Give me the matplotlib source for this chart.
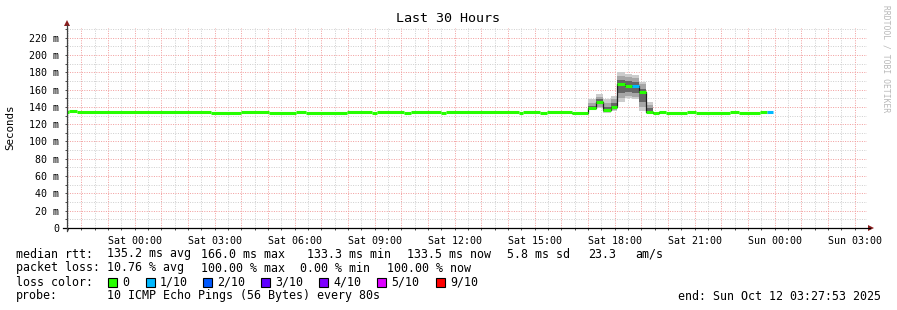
import matplotlib
matplotlib.use('Agg')
import matplotlib.pyplot as plt
import matplotlib.dates as mdates
from matplotlib.ticker import MultipleLocator, FuncFormatter
from matplotlib.lines import Line2D
from matplotlib.patches import Polygon, Rectangle
import pandas as pd

W, H = 897, 310
MONO = 'DejaVu Sans Mono'

# time window of the graph
t_start = pd.Timestamp('2025-10-10 21:27:53')
t_end = pd.Timestamp('2025-10-12 03:27:53')

# median rtt (ms) per step, with loss count (out of 10)
seg_start = pd.to_datetime([
    '2025-10-10 21:27:53', '2025-10-10 21:32', '2025-10-10 21:50',
    '2025-10-11 02:53', '2025-10-11 03:59', '2025-10-11 05:02', '2025-10-11 06:04',
    '2025-10-11 06:25', '2025-10-11 07:58', '2025-10-11 08:54', '2025-10-11 09:05',
    '2025-10-11 10:06', '2025-10-11 10:22', '2025-10-11 11:29', '2025-10-11 11:40',
    '2025-10-11 14:25', '2025-10-11 14:35', '2025-10-11 15:12', '2025-10-11 15:27',
    '2025-10-11 16:24', '2025-10-11 17:01', '2025-10-11 17:18', '2025-10-11 17:35',
    '2025-10-11 17:51', '2025-10-11 18:06', '2025-10-11 18:23', '2025-10-11 18:40',
    '2025-10-11 18:55', '2025-10-11 19:11', '2025-10-11 19:27', '2025-10-11 19:40',
    '2025-10-11 19:56', '2025-10-11 20:42', '2025-10-11 21:03', '2025-10-11 22:20',
    '2025-10-11 22:41', '2025-10-11 23:27', '2025-10-11 23:43',
], format='ISO8601')
median_ms = [
    134.0, 135.6, 134.0,
    133.5, 134.0, 133.5, 134.0,
    133.5, 134.0, 133.5, 134.0,
    133.5, 134.0, 133.5, 134.0,
    133.5, 134.0, 133.5, 134.0,
    133.5, 138.2, 145.9, 136.3,
    139.4, 166.3, 164.5, 164.0,
    156.7, 134.3, 133.5, 134.0,
    133.5, 134.0, 133.5, 134.0,
    133.5, 134.0, 134.0,
]
loss = [0] * 26 + [1] + [0] * 10 + [1]
data_end = pd.Timestamp('2025-10-11 23:57')

# smoke (ping spread) during the evening bump
smoke_edges = pd.to_datetime([
    '2025-10-11 17:01', '2025-10-11 17:18', '2025-10-11 17:35', '2025-10-11 17:51',
    '2025-10-11 18:06', '2025-10-11 18:23', '2025-10-11 18:40', '2025-10-11 18:55',
    '2025-10-11 19:11', '2025-10-11 19:27',
], format='ISO8601')
smoke_min = [136.0, 138.2, 133.2, 135.5, 145.9, 150.0, 148.6, 135.5, 134.3]
smoke_max = [148.6, 154.7, 148.6, 152.5, 179.8, 178.0, 176.7, 169.0, 145.9]
smoke_q1 = [137.0, 140.0, 134.0, 136.5, 150.0, 153.0, 152.0, 140.0, 134.5]
smoke_q3 = [145.0, 152.0, 145.0, 149.0, 176.0, 175.0, 173.0, 166.0, 142.0]
smoke_in_lo = [137.5, 143.0, 135.0, 137.5, 156.0, 157.0, 156.0, 146.0, 135.0]
smoke_in_hi = [141.0, 149.0, 140.0, 144.0, 171.0, 170.0, 169.0, 161.0, 139.0]

loss_labels = ['0', '1/10', '2/10', '3/10', '4/10', '5/10', '9/10']
loss_colors = ['#26ff00', '#00b8ff', '#0059ff', '#5e00ff', '#7e00ff', '#dd00ff', '#ff0000']
loss_color_of = {0: '#26ff00', 1: '#00b8ff'}


def fx(x):
    return x / W


def fy(y):
    return 1 - y / H


fig = plt.figure(figsize=(W / 100, H / 100), dpi=100)
fig.patch.set_facecolor('white')
ax = fig.add_axes([fx(67), fy(228), 800 / W, 200 / H])

# smoke bands
def band(lo, hi, color):
    ax.fill_between(smoke_edges, lo + [lo[-1]], hi + [hi[-1]], step='post',
                    color=color, linewidth=0, zorder=2)

band(smoke_min, smoke_max, '#cccccc')
band(smoke_q1, smoke_q3, '#a6a6a6')
band(smoke_in_lo, smoke_in_hi, '#666666')

# median: thin dark step over the smoky part + loss-coloured thick segments
seg_end = list(seg_start[1:]) + [data_end]
ax.step(list(seg_start[19:31]), median_ms[19:31], where='post',
        color='#202020', lw=0.9, zorder=3)
for s, e, m, l in zip(seg_start, seg_end, median_ms, loss):
    ax.hlines(m, s, e, color=loss_color_of[l], lw=2.2, zorder=4, capstyle='butt')

ax.set_xlim(t_start, t_end)
ax.set_ylim(0, 231.2)

ax.xaxis.set_major_locator(mdates.HourLocator())
ax.xaxis.set_minor_locator(mdates.MinuteLocator(byminute=[30]))
ax.xaxis.set_major_formatter(FuncFormatter(
    lambda v, p: mdates.num2date(v).strftime('%a %H:%M') if mdates.num2date(v).hour % 3 == 0 else ''))
ax.yaxis.set_major_locator(MultipleLocator(20))
ax.yaxis.set_minor_locator(MultipleLocator(10))
ax.yaxis.set_major_formatter(FuncFormatter(lambda v, p: '0' if v == 0 else '%d m' % v))

ax.grid(which='minor', color='#d0d0d0', linestyle=(0, (1, 1.4)), lw=0.72)
ax.grid(which='major', color='#f2a0a0', linestyle=(0, (1, 1.4)), lw=0.72)
ax.set_axisbelow(True)

for sp in ax.spines.values():
    sp.set_visible(False)
ax.tick_params(which='both', length=1.6, width=0.72, color='#505050', pad=4,
               labelsize=7.2)
for lab in ax.get_xticklabels() + ax.get_yticklabels():
    lab.set_fontfamily(MONO)

# axes with arrows
fig.add_artist(Line2D([fx(63), fx(870)], [fy(228), fy(228)], color='black', lw=0.9))
fig.add_artist(Line2D([fx(67), fx(67)], [fy(231), fy(25)], color='#404040', lw=0.9))
fig.add_artist(Polygon([(fx(868), fy(225)), (fx(874), fy(228)), (fx(868), fy(231))],
                       closed=True, color='#8a1c1c', lw=0))
fig.add_artist(Polygon([(fx(64), fy(26)), (fx(67), fy(20)), (fx(70), fy(26))],
                       closed=True, color='#8a1c1c', lw=0))

# title, axis label, watermark
fig.text(fx(448), fy(19), 'Last 30 Hours', family=MONO, fontsize=9.6, ha='center', va='center')
fig.text(fx(10), fy(127), 'Seconds', family=MONO, fontsize=7.8, rotation=90,
         ha='center', va='center')
fig.text(fx(886), fy(59), 'RRDTOOL / TOBI OETIKER', family=MONO, fontsize=5.8,
         rotation=-90, ha='center', va='center', color='#b8b8b8')

# legend rows
fs = 8.4
rows = [
    (254, [(16, 'median rtt:'), (107, '135.2 ms avg'), (201, '166.0 ms max'),
           (307, '133.3 ms min'), (407, '133.5 ms now'), (507, '5.8 ms sd'),
           (588, '23.3'), (635, 'am/s')]),
    (268, [(16, 'packet loss:'), (107, '10.76 % avg'), (201, '100.00 % max'),
           (300, '0.00 % min'), (387, '100.00 % now')]),
    (282, [(16, 'loss color:')]),
    (296, [(16, 'probe:'), (107, '10 ICMP Echo Pings (56 Bytes) every 80s')]),
]
for y, items in rows:
    for x, s in items:
        fig.text(fx(x), fy(y), s, family=MONO, fontsize=fs, ha='left', va='center')
fig.text(fx(881), fy(296), 'end: Sun Oct 12 03:27:53 2025', family=MONO, fontsize=fs,
         ha='right', va='center')

box_x = [108, 146, 203, 261, 319, 377, 436]
for bx, lab, col in zip(box_x, loss_labels, loss_colors):
    fig.add_artist(Rectangle((fx(bx), fy(287)), 9 / W, 9 / H, facecolor=col,
                             edgecolor='black', lw=0.8))
    fig.text(fx(bx + 14), fy(282), lab, family=MONO, fontsize=fs, ha='left', va='center')

fig.savefig('out.png', dpi=100)
